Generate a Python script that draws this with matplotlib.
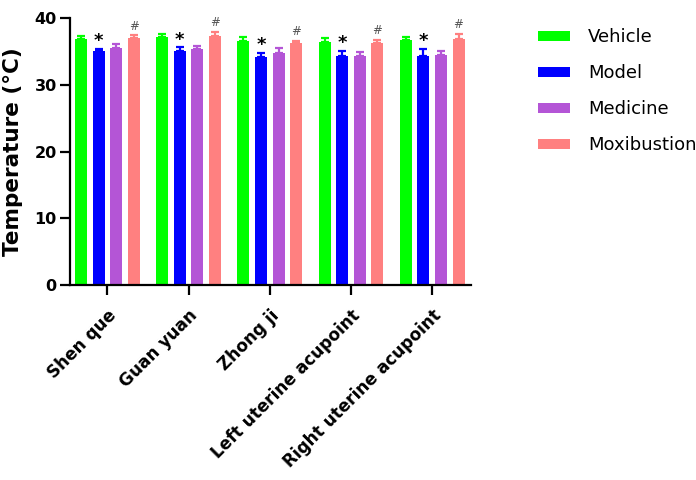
import matplotlib
matplotlib.use("Agg")
import matplotlib.pyplot as plt
import numpy as np

sites = ["Shen que", "Guan yuan", "Zhong ji", "Left uterine acupoint", "Right uterine acupoint"]
groups = ["Vehicle", "Model", "Medicine", "Moxibustion"]
colors = ["#00ff00", "#0000ff", "#b455d6", "#ff8080"]

vehicle = [36.8, 37.15, 36.55, 36.4, 36.65]
vehicle_err = [0.5, 0.5, 0.55, 0.6, 0.45]
model = [35.05, 35.05, 34.15, 34.3, 34.3]
model_err = [0.35, 0.55, 0.65, 0.75, 1.1]
medicine = [35.45, 35.4, 34.75, 34.3, 34.45]
medicine_err = [0.65, 0.45, 0.8, 0.6, 0.55]
moxi = [37.0, 37.3, 36.25, 36.25, 36.85]
moxi_err = [0.4, 0.65, 0.35, 0.5, 0.75]

means = [vehicle, model, medicine, moxi]
errs = [vehicle_err, model_err, medicine_err, moxi_err]

fig = plt.figure(figsize=(6.96, 4.8), dpi=100)
ax = fig.add_axes([0.1006, 0.406, 0.5764, 0.5565])

x = np.arange(len(sites))
pitch = 0.216
width = 0.148
for i, (m, e, c, g) in enumerate(zip(means, errs, colors, groups)):
    pos = x + (i - 1.5) * pitch
    ax.bar(pos, m, width, color=c, label=g, zorder=2)
    ax.errorbar(pos, m, yerr=[np.zeros(len(e)), e], fmt="none", ecolor=c,
                elinewidth=1.6, capsize=2.6, capthick=1.6, zorder=2)
    if g == "Model":
        for p, v, ee in zip(pos, m, e):
            ax.annotate("*", (p, v + ee), xytext=(0, -1), textcoords="offset points",
                        ha="center", va="bottom", fontsize=13, fontweight="bold", color="black")
    if g == "Moxibustion":
        for p, v, ee in zip(pos, m, e):
            ax.annotate("#", (p, v + ee), xytext=(0, 2), textcoords="offset points",
                        ha="center", va="bottom", fontsize=8.5, color="#555555")

ax.set_xlim(-0.46, 4.48)
ax.set_ylim(0, 40)
ax.set_yticks([0, 10, 20, 30, 40])
ax.set_xticks(x)
ax.set_xticklabels(sites, rotation=45, ha="right", rotation_mode="anchor",
                   fontsize=12.2, fontweight="bold")
for lab in ax.get_yticklabels():
    lab.set_fontsize(11.5)
    lab.set_fontweight("bold")
ax.set_ylabel("Temperature (°C)", fontsize=15.5, fontweight="bold", labelpad=8)

for s in ["top", "right"]:
    ax.spines[s].set_visible(False)
for s in ["left", "bottom"]:
    ax.spines[s].set_linewidth(1.6)
ax.tick_params(axis="both", width=1.6, length=7.5, direction="out")
ax.tick_params(axis="y", pad=2)
ax.tick_params(axis="x", pad=8)

fig.legend(loc="upper left", bbox_to_anchor=(0.75, 0.975), frameon=False,
           fontsize=13, handlelength=1.75, handleheight=0.5,
           handletextpad=1.0, labelspacing=1.0)

fig.savefig("out.png", dpi=100)
